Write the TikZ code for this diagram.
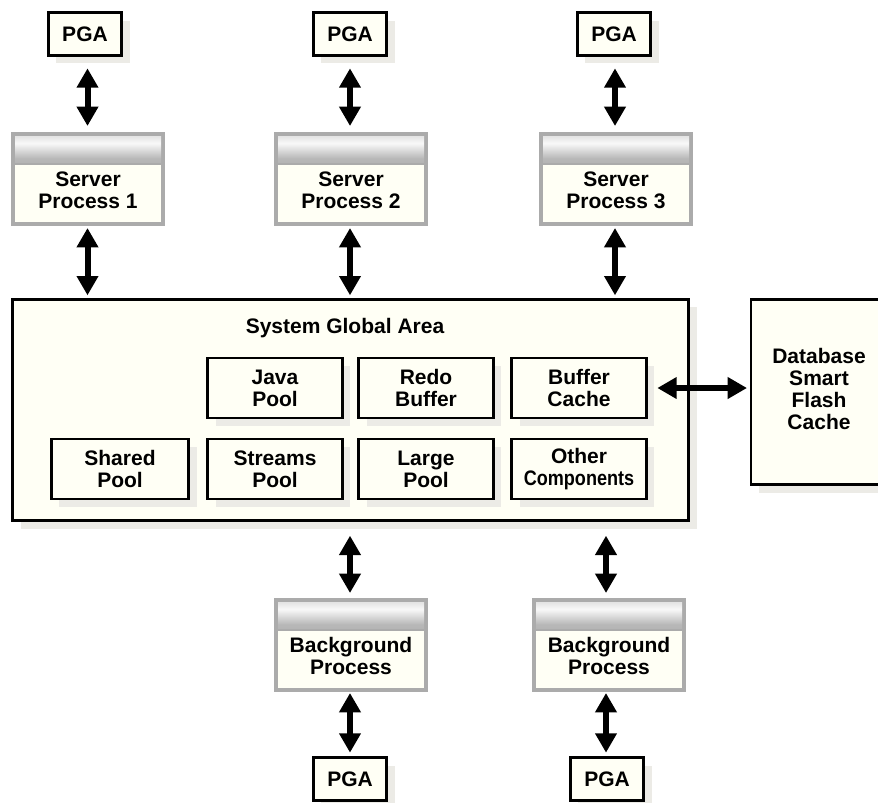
\documentclass[tikz,border=0pt]{standalone}
\usepackage{fontspec}
\setmainfont{Liberation Sans}
\usetikzlibrary{arrows.meta,shadows,calc}
\definecolor{cream}{HTML}{FFFFF5}
\definecolor{shadowgray}{HTML}{ECEBE6}
\definecolor{framegray}{HTML}{ABABAB}
\pgfdeclareverticalshading{barshade}{100bp}{color(0bp)=(framegray); color(35bp)=(framegray!85!white); color(62bp)=(white!92!framegray); color(100bp)=(framegray!80!white)}
\tikzset{
	boxtext/.style={font=\fontsize{15.75}{16.4}\selectfont\bfseries, align=center},
	solidbox/.style={draw=black, fill=cream, line width=2.2pt, outer sep=0pt, boxtext,
		drop shadow={shadow xshift=6pt, shadow yshift=-6pt, fill=shadowgray, opacity=1}},
	pgabox/.style={solidbox, minimum width=55pt, minimum height=32pt},
	poolbox/.style={solidbox, minimum width=101pt, minimum height=45pt},
	procbox/.style={draw=framegray, fill=cream, line width=2.8pt, outer sep=0pt,
		minimum width=112.5pt, minimum height=67.5pt},
	dblarrow/.style={{Triangle[width=15.5pt,length=14.5pt]}-{Triangle[width=15.5pt,length=14.5pt]}, line width=4.5pt, draw=black}
}
\begin{document}
\begin{tikzpicture}[x=.75pt, y=-.75pt]
	\useasboundingbox (0,0) rectangle (878,803);
	% process boxes with their grey title bars
	\foreach \n/\x/\y/\t in {server1/88/179/{Server\\Process 1}, server2/351/179/{Server\\Process 2},
		server3/616/179/{Server\\Process 3}, back1/351/645/{Background\\Process}, back2/609/645/{Background\\Process}}{
		\node [procbox] (\n) at (\x,\y) {};
		\shade [shading=barshade] ($(\n.north west)+(2,2)$) rectangle ($(\n.north east)+(-2,30)$);
		\draw [line width=1.5pt, draw=framegray] ($(\n.north west)+(2,30)$) -- ($(\n.north east)+(-2,30)$);
		\node [boxtext] (\n-text) at (\x,\y+11) {\t};
	}
	% system global area and flash cache
	\node [solidbox, minimum width=507pt, minimum height=166pt] (sga) at (350.5,410) {};
	\node [boxtext] (sga-title) at (345,328) {System Global Area};
	\node [solidbox, minimum width=96pt, minimum height=139pt] (flash) at (815,392) {};
	\node [boxtext] (flash-text) at (819,389) {Database\\Smart\\Flash\\Cache};
	\foreach \n/\x/\y/\w/\t in {java/275/388/101/{Java\\Pool}, redo/426/388/101/{Redo\\Buffer}, buffer/579/388/101/{Buffer\\Cache},
		shared/120/469/103/{Shared\\Pool}, streams/275/469/101/{Streams\\Pool}, large/426/469/101/{Large\\Pool},
		other/579/469/101/{Other\\\scalebox{.86}[1]{Components}}}{
		\node [poolbox, minimum width=\w pt] (\n) at (\x,\y) {\t};
	}
	\foreach \n/\x/\y in {pga1/85/34, pga2/350/34, pga3/614/34, pga4/350/779, pga5/607/779}{
		\node [pgabox] (\n) at (\x,\y) {PGA};
	}
	% one column for each row of double arrows
	\coordinate (col1) at (87.5,0);
	\coordinate (col2) at (350,0);
	\coordinate (col3) at (615,0);
	\coordinate (col4) at (606,0);
	% double arrows
	\foreach \c/\a/\b/\s/\e in {col1/pga1/server1/13/8, col2/pga2/server2/13/8, col3/pga3/server3/13/8,
		col1/server1/sga/4/4, col2/server2/sga/4/4, col3/server3/sga/4/4,
		col2/sga/back1/15/7, col4/sga/back2/15/7, col2/back1/pga4/3/5, col4/back2/pga5/3/5}{
		\draw [dblarrow, shorten <=\s*.75pt, shorten >=\e*.75pt] (\c |- \a.south) -- (\c |- \b.north);
	}
	\draw [dblarrow, shorten <=8.25pt, shorten >=3pt] (buffer.east) -- (buffer.east -| flash.west);
\end{tikzpicture}
\end{document}
